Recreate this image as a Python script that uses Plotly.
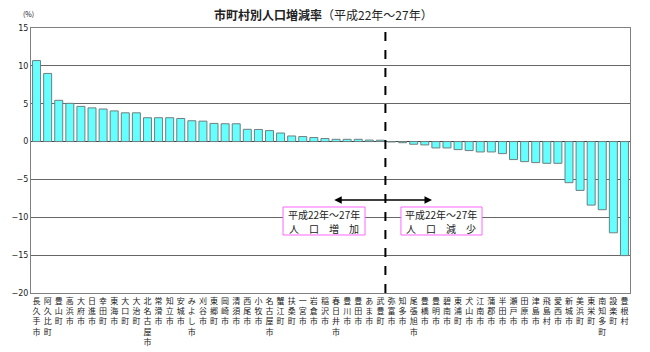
import plotly.graph_objects as go

municipalities = ["長久手市", "阿久比町", "豊山町", "高浜市", "大府市", "日進市", "幸田町", "東海市", "大口町", "大治町",
                  "北名古屋市", "常滑市", "知立市", "安城市", "みよし市", "刈谷市", "東郷町", "岡崎市", "清須市", "西尾市",
                  "小牧市", "名古屋市", "蟹江町", "扶桑町", "一宮市", "岩倉市", "稲沢市", "春日井市", "豊川市", "豊田市",
                  "あま市", "武豊町", "弥富市", "知多市", "尾張旭市", "豊橋市", "豊明市", "碧南市", "東浦町", "犬山市",
                  "江南市", "蒲郡市", "半田市", "瀬戸市", "田原市", "津島市", "飛島村", "愛西市", "新城市", "美浜町",
                  "東栄町", "南知多町", "設楽町", "豊根村"]
rates = [10.7, 9.0, 5.45, 5.05, 4.65, 4.45, 4.3, 4.05, 3.8, 3.8,
         3.15, 3.15, 3.15, 3.05, 2.75, 2.7, 2.4, 2.35, 2.35, 1.62,
         1.6, 1.45, 1.13, 0.74, 0.66, 0.53, 0.4, 0.3, 0.3, 0.3,
         0.2, 0.18, -0.05, -0.15, -0.35, -0.44, -0.84, -0.84, -1.06, -1.19,
         -1.37, -1.37, -1.59, -2.38, -2.65, -2.78, -2.87, -2.87, -5.43, -6.45,
         -8.39, -9.0, -12.05, -15.06]
y_ticks = [15, 10, 5, 0, -5, -10, -15, -20]
box_line1 = "平成22年～27年"
box_line2 = ["人　口　増　加", "人　口　減　少"]

FONT = "Noto Sans CJK JP"
xs = list(range(len(municipalities)))
ticktext = ["<br>".join(list(n)) for n in municipalities]

fig = go.Figure()
fig.add_trace(go.Bar(
    x=xs, y=rates,
    marker=dict(color="#66FFFF", line=dict(color="#6f7f7f", width=1)),
    width=0.72,
))

fig.update_layout(
    width=650, height=352,
    margin=dict(l=31, r=20, t=28, b=59),
    paper_bgcolor="white", plot_bgcolor="white",
    showlegend=False,
    font=dict(family=FONT, color="#222"),
    xaxis=dict(range=[-0.5, len(xs) - 0.5], tickvals=xs, ticktext=ticktext, automargin=False,
               tickangle=0, showgrid=False, zeroline=False,
               showline=True, linecolor="#808080", linewidth=1, mirror=True,
               ticks="", tickfont=dict(size=8, family=FONT, color="#222")),
    yaxis=dict(range=[-20, 15], tickvals=y_ticks, ticktext=[str(v).replace("-", "−") for v in y_ticks],
               automargin=False,
               showgrid=True, gridcolor="#666", gridwidth=1,
               zeroline=True, zerolinecolor="#444", zerolinewidth=1,
               showline=True, linecolor="#808080", linewidth=1, mirror=True,
               ticks="", tickfont=dict(size=8, family="DejaVu Sans", color="#222")),
)

# dashed divider line
fig.add_shape(type="line", xref="x", yref="y", x0=31.45, x1=31.45, y0=-20, y1=15,
              line=dict(color="black", width=2, dash="dash"))

# double-headed arrow
fig.add_annotation(x=35.65, y=-7.71, ax=26.7, ay=-7.71, xref="x", yref="y", axref="x", ayref="y",
                   text="", showarrow=True, arrowhead=2, startarrowhead=2, arrowside="end+start",
                   arrowwidth=1.5, arrowcolor="black", arrowsize=1, startarrowsize=1)

# labelled boxes
for (x0, x1), line2 in zip([(22.22, 29.61), (32.85, 40.16)], box_line2):
    fig.add_shape(type="rect", xref="x", yref="y", x0=x0, x1=x1, y0=-12.34, y1=-8.64,
                  fillcolor="white", line=dict(color="#FF66FF", width=1), layer="above")
    xc = (x0 + x1) / 2
    fig.add_annotation(x=xc, y=-9.6, xref="x", yref="y", text=box_line1, showarrow=False,
                       yanchor="middle", font=dict(size=10, family=FONT, color="#222"))
    fig.add_annotation(x=xc, y=-11.45, xref="x", yref="y", text=line2, showarrow=False,
                       yanchor="middle", font=dict(size=10, family=FONT, color="#222"))

fig.add_annotation(x=0.4875, y=1, xref="paper", yref="paper", yshift=14, yanchor="middle",
                   text="<b>市町村別人口増減率</b>（平成22年～27年）", showarrow=False,
                   font=dict(size=12, family=FONT, color="#222"))
fig.add_annotation(x=0, y=1, xref="paper", yref="paper", xanchor="center", yanchor="middle",
                   xshift=-3, yshift=14,
                   text="(%)", showarrow=False, font=dict(size=7, family=FONT, color="#222"))

fig.write_html("out.html")
